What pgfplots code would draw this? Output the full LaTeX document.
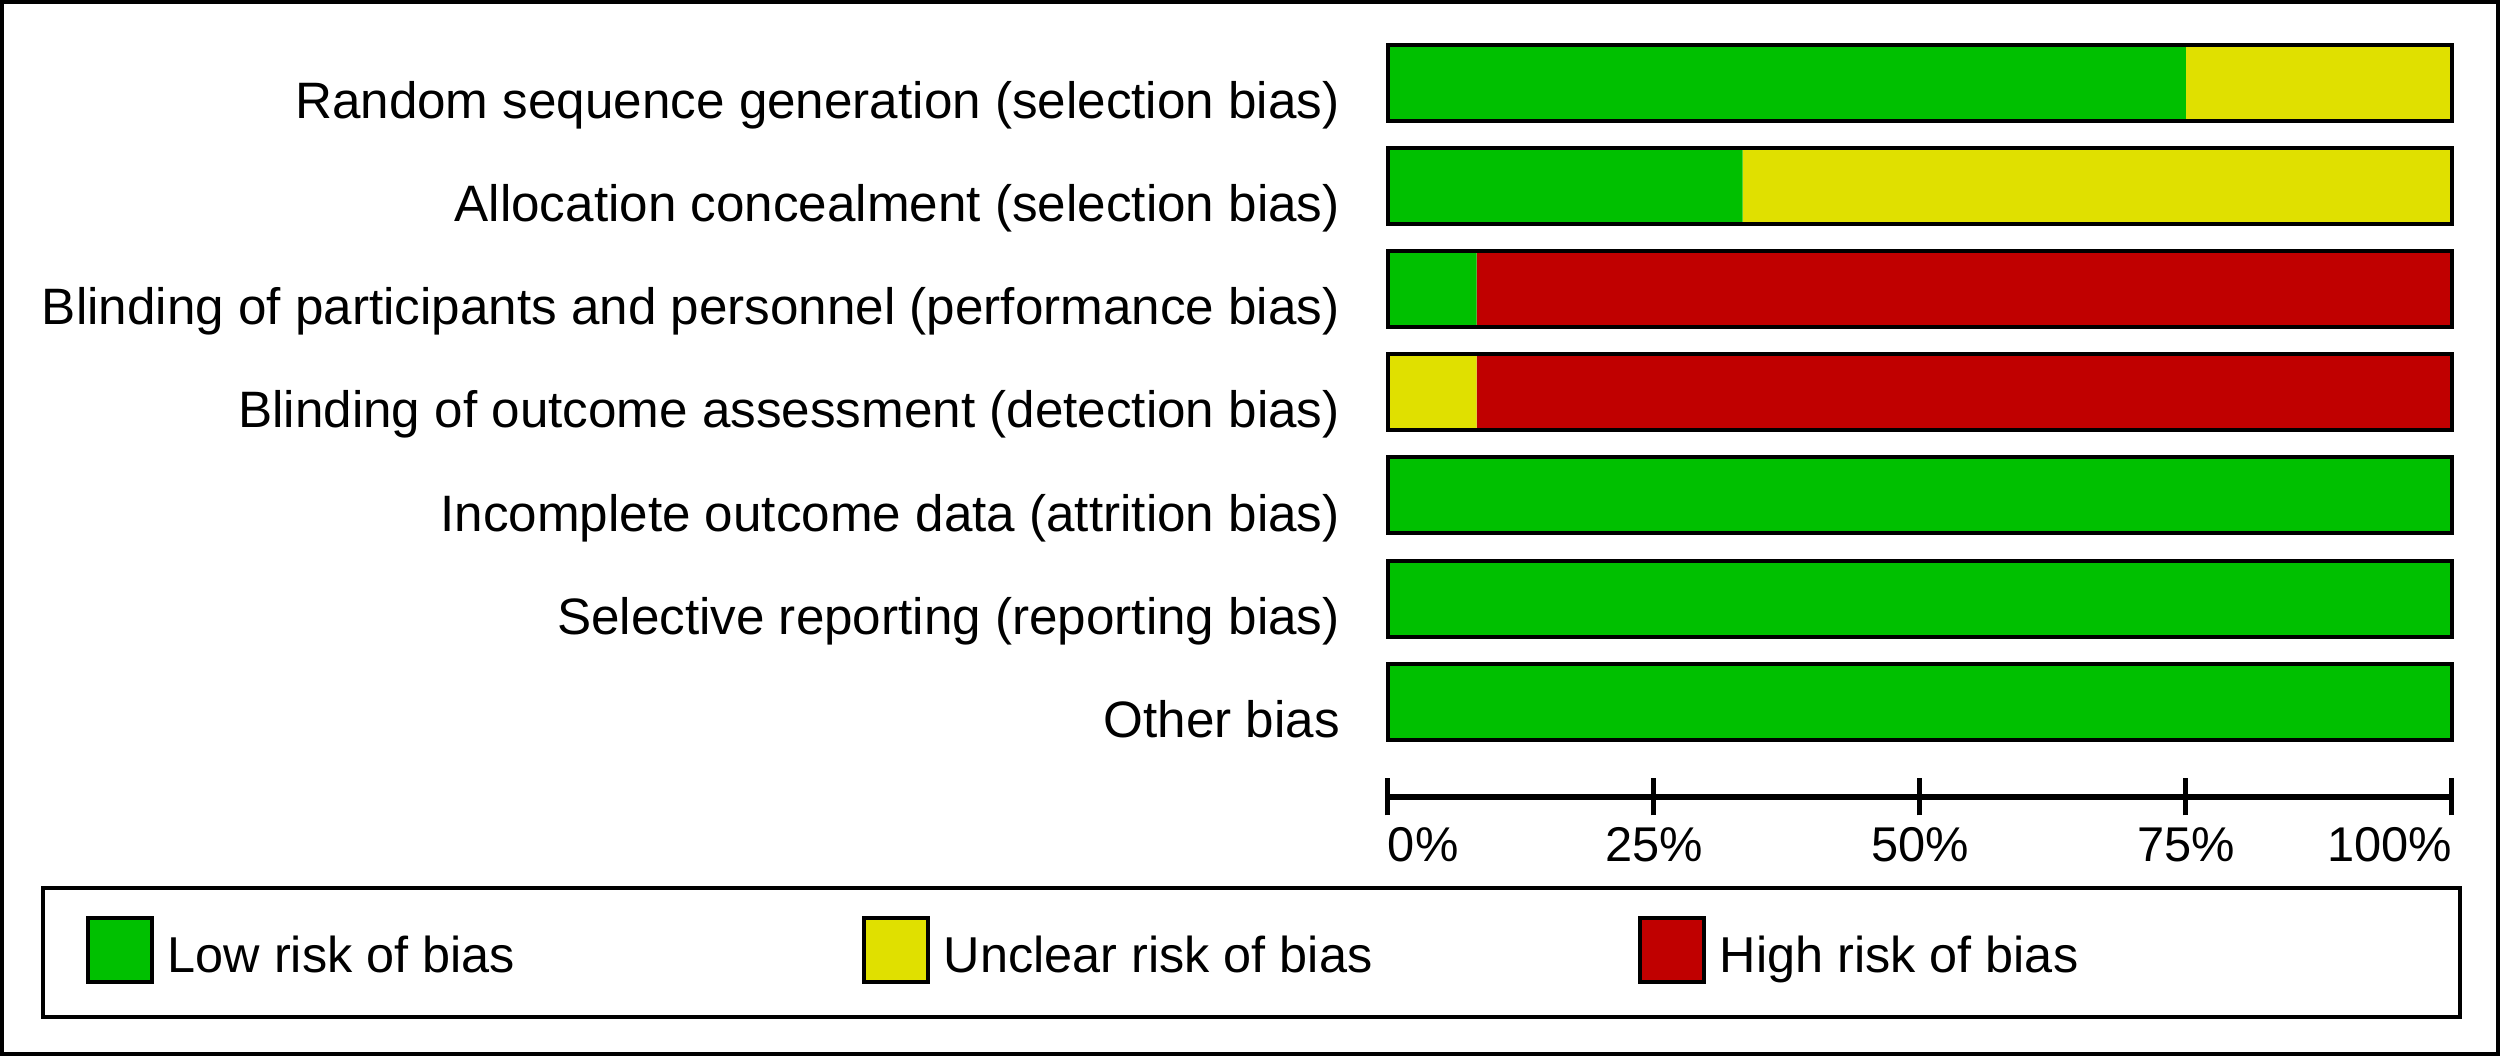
\documentclass[border=0pt]{standalone}
\usepackage{fontspec}
\setmainfont{Liberation Sans}
\usepackage{pgfplots}
\usepackage{pgfplotstable}
\pgfplotsset{compat=1.18}
\definecolor{lowg}{RGB}{0,192,0}
\definecolor{uncy}{RGB}{224,224,0}
\definecolor{highr}{RGB}{192,0,0}
\newcommand{\lf}{\fontsize{12.8pt}{15pt}\selectfont}
\newcommand{\tf}{\fontsize{12.2pt}{15pt}\selectfont}
\newcommand{\gf}{\fontsize{12.6pt}{15pt}\selectfont}

\pgfplotstableread{
y low unclear high total
7 75 25 0 100
6 33.33 66.67 0 100
5 8.33 0 91.67 100
4 0 8.33 91.67 100
3 100 0 0 100
2 100 0 0 100
1 100 0 0 100
}\data

\begin{document}
\begin{tikzpicture}
\useasboundingbox (0,0) rectangle (625pt,-264pt);
\draw[line width=1pt] (0.5pt,-0.5pt) rectangle (624.5pt,-263.5pt);
\draw[line width=1pt] (10.75pt,-222pt) rectangle (615pt,-254.25pt);
\begin{axis}[
 at={(347pt,-199.25pt)}, anchor=south west,
 scale only axis, width=266pt, height=191.53pt,
 xmin=0, xmax=100, ymin=0.0799, ymax=7.5,
 xbar stacked, bar width=19pt,
 axis x line=bottom, axis y line=left,
 x axis line style={line width=1.5pt,-},
 y axis line style={draw=none},
 xtick={0,25,50,75,100},
 xticklabels={\makebox[0pt][l]{0\%},25\%,50\%,75\%,\makebox[0pt][r]{100\%}},
 tick align=center, major tick length=9.25pt,
 xtick style={line width=1.25pt, black},
 ytick={1,2,3,4,5,6,7},
 yticklabels={Other bias,Selective reporting (reporting bias),Incomplete outcome data (attrition bias),Blinding of outcome assessment (detection bias),Blinding of participants and personnel (performance bias),Allocation concealment (selection bias),Random sequence generation (selection bias)},
 ytick style={draw=none},
 xticklabel style={font=\tf, anchor=base, inner sep=0pt, yshift=-11.6pt},
 yticklabel style={font=\lf, anchor=base east, inner sep=0pt, yshift=-8.9pt, xshift=-7.25pt},
 legend columns=3,
 legend cell align=left,
 legend style={draw=none, fill=none, at={(-1.22462,-0.20101)}, anchor=west,
   inner xsep=0pt, inner ysep=0pt, font=\gf,
   /tikz/every odd column/.append style={column sep=1.5pt},
   /tikz/every even column/.append style={column sep=1.5pt}},
 clip=false,
]
\addplot[fill=lowg, draw=none,
  legend image code/.code={\draw[fill=lowg, draw=black, line width=1pt] (0pt,-6.1pt) rectangle (16pt,9.9pt);}]
  table[x=low, y=y]{\data};
\addlegendentry{\makebox[170pt][l]{Low risk of bias}}
\addplot[fill=uncy, draw=none,
  legend image code/.code={\draw[fill=uncy, draw=black, line width=1pt] (0pt,-6.1pt) rectangle (16pt,9.9pt);}]
  table[x=unclear, y=y]{\data};
\addlegendentry{\makebox[170pt][l]{Unclear risk of bias}}
\addplot[fill=highr, draw=none,
  legend image code/.code={\draw[fill=highr, draw=black, line width=1pt] (0pt,-6.1pt) rectangle (16pt,9.9pt);}]
  table[x=high, y=y]{\data};
\addlegendentry{\makebox[170pt][l]{High risk of bias}}
\end{axis}
\begin{axis}[
 at={(347pt,-199.25pt)}, anchor=south west,
 scale only axis, width=266pt, height=191.53pt,
 xmin=0, xmax=100, ymin=0.0799, ymax=7.5,
 xbar, bar width=19pt, hide axis, clip=false,
]
\addplot[fill=none, draw=black, line width=1pt] table[x=total, y=y]{\data};
\end{axis}
\end{tikzpicture}
\end{document}
